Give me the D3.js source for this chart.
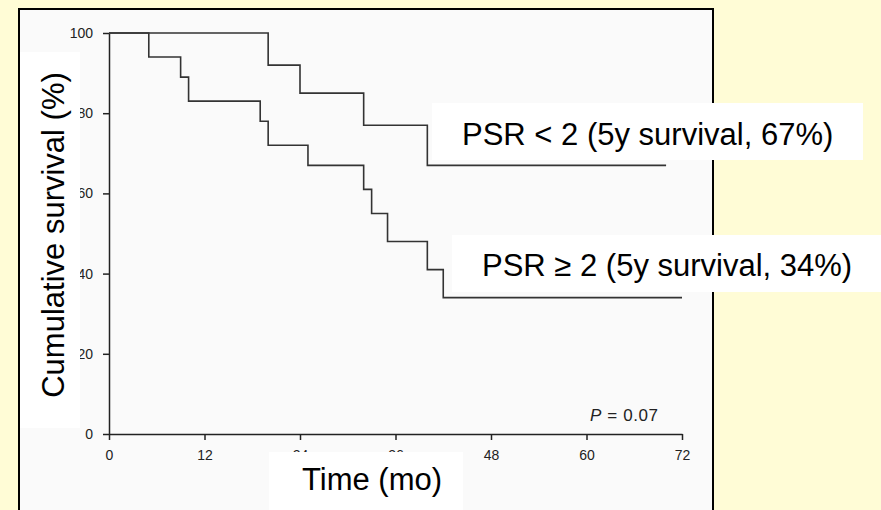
<!DOCTYPE html>
<html>
<head>
<meta charset="utf-8">
<script src="https://cdn.jsdelivr.net/npm/d3@7"></script>
<style>
  body { margin: 0; background: #FFFCD6; }
  svg { display: block; }
</style>
</head>
<body>
<script>
// Kaplan-Meier step data (time in months, survival %)
var timesLow = [0, 20, 24, 32, 40, 70];
var survLow = [100, 92, 85, 77, 67, 67];
var timesHigh = [0, 5, 9, 10, 19, 20, 25, 32, 33, 35, 40, 42, 72];
var survHigh = [100, 94, 89, 83, 78, 72, 67, 61, 55, 48, 41, 34, 34];
var xTicks = [0, 12, 24, 36, 48, 60, 72];
var yTicks = [0, 20, 40, 60, 80, 100];
var labelLow = "PSR < 2 (5y survival, 67%)";
var labelHigh = "PSR \u2265 2 (5y survival, 34%)";

var W = 881, H = 510;

var svg = d3.select("body").append("svg")
    .attr("width", W)
    .attr("height", H);

svg.append("rect")
    .attr("width", W).attr("height", H)
    .attr("fill", "#FFFCD6");

// white-ish panel with black frame
svg.append("rect")
    .attr("x", 19).attr("y", 9)
    .attr("width", 694).attr("height", 520)
    .attr("fill", "#FAFAFA")
    .attr("stroke", "#000")
    .attr("stroke-width", 2);

var x = d3.scaleLinear().domain([0, 72]).range([109, 682]);
var y = d3.scaleLinear().domain([0, 100]).range([434, 33]);

var xAxis = d3.axisBottom(x).tickValues(xTicks).tickSize(6).tickSizeOuter(0).tickPadding(10);
var yAxis = d3.axisLeft(y).tickValues(yTicks).tickSize(6).tickSizeOuter(0).tickPadding(10);

var gx = svg.append("g")
    .attr("transform", "translate(0," + y(0) + ")")
    .call(xAxis);
var gy = svg.append("g")
    .attr("transform", "translate(" + x(0) + ",0)")
    .call(yAxis);

[gx, gy].forEach(function (g) {
    g.attr("font-size", null);
    g.selectAll("path, line").attr("stroke", "#222").attr("stroke-width", 1.5);
    g.selectAll("text")
        .attr("fill", "#222")
        .style("font-family", "'Liberation Sans', Arial, sans-serif")
        .style("font-size", "14px");
});

var line = d3.line()
    .x(function (d) { return x(d[0]); })
    .y(function (d) { return y(d[1]); })
    .curve(d3.curveStepAfter);

var curves = [d3.zip(timesLow, survLow), d3.zip(timesHigh, survHigh)];

svg.selectAll(".km")
    .data(curves)
    .enter().append("path")
    .attr("class", "km")
    .attr("d", line)
    .attr("fill", "none")
    .attr("stroke", "#333")
    .attr("stroke-width", 1.6);

// white label boxes sitting over the plot
var boxes = [
    { x: 20, y: 52, w: 60, h: 376 },
    { x: 269, y: 452, w: 194, h: 60 },
    { x: 432, y: 103, w: 431, h: 57 },
    { x: 452, y: 235, w: 429, h: 57 }
];
svg.selectAll(".box")
    .data(boxes)
    .enter().append("rect")
    .attr("class", "box")
    .attr("x", function (d) { return d.x; })
    .attr("y", function (d) { return d.y; })
    .attr("width", function (d) { return d.w; })
    .attr("height", function (d) { return d.h; })
    .attr("fill", "#fff");

var bigFont = "'Liberation Sans', Arial, sans-serif";

svg.append("text")
    .attr("transform", "translate(64,235) rotate(-90)")
    .attr("text-anchor", "middle")
    .style("font-family", bigFont)
    .style("font-size", "31px")
    .text("Cumulative survival (%)");

svg.append("text")
    .attr("x", 372).attr("y", 490)
    .attr("text-anchor", "middle")
    .style("font-family", bigFont)
    .style("font-size", "31px")
    .text("Time (mo)");

svg.append("text")
    .attr("x", 462).attr("y", 145)
    .style("font-family", bigFont)
    .style("font-size", "31px")
    .text(labelLow);

svg.append("text")
    .attr("x", 482).attr("y", 276)
    .style("font-family", bigFont)
    .style("font-size", "31px")
    .text(labelHigh);

var pText = svg.append("text")
    .attr("x", 590).attr("y", 421)
    .attr("fill", "#222")
    .style("font-family", bigFont)
    .style("font-size", "17px")
    .style("letter-spacing", "0.6px");
pText.append("tspan").style("font-style", "italic").text("P");
pText.append("tspan").text(" = 0.07");
</script>
</body>
</html>
